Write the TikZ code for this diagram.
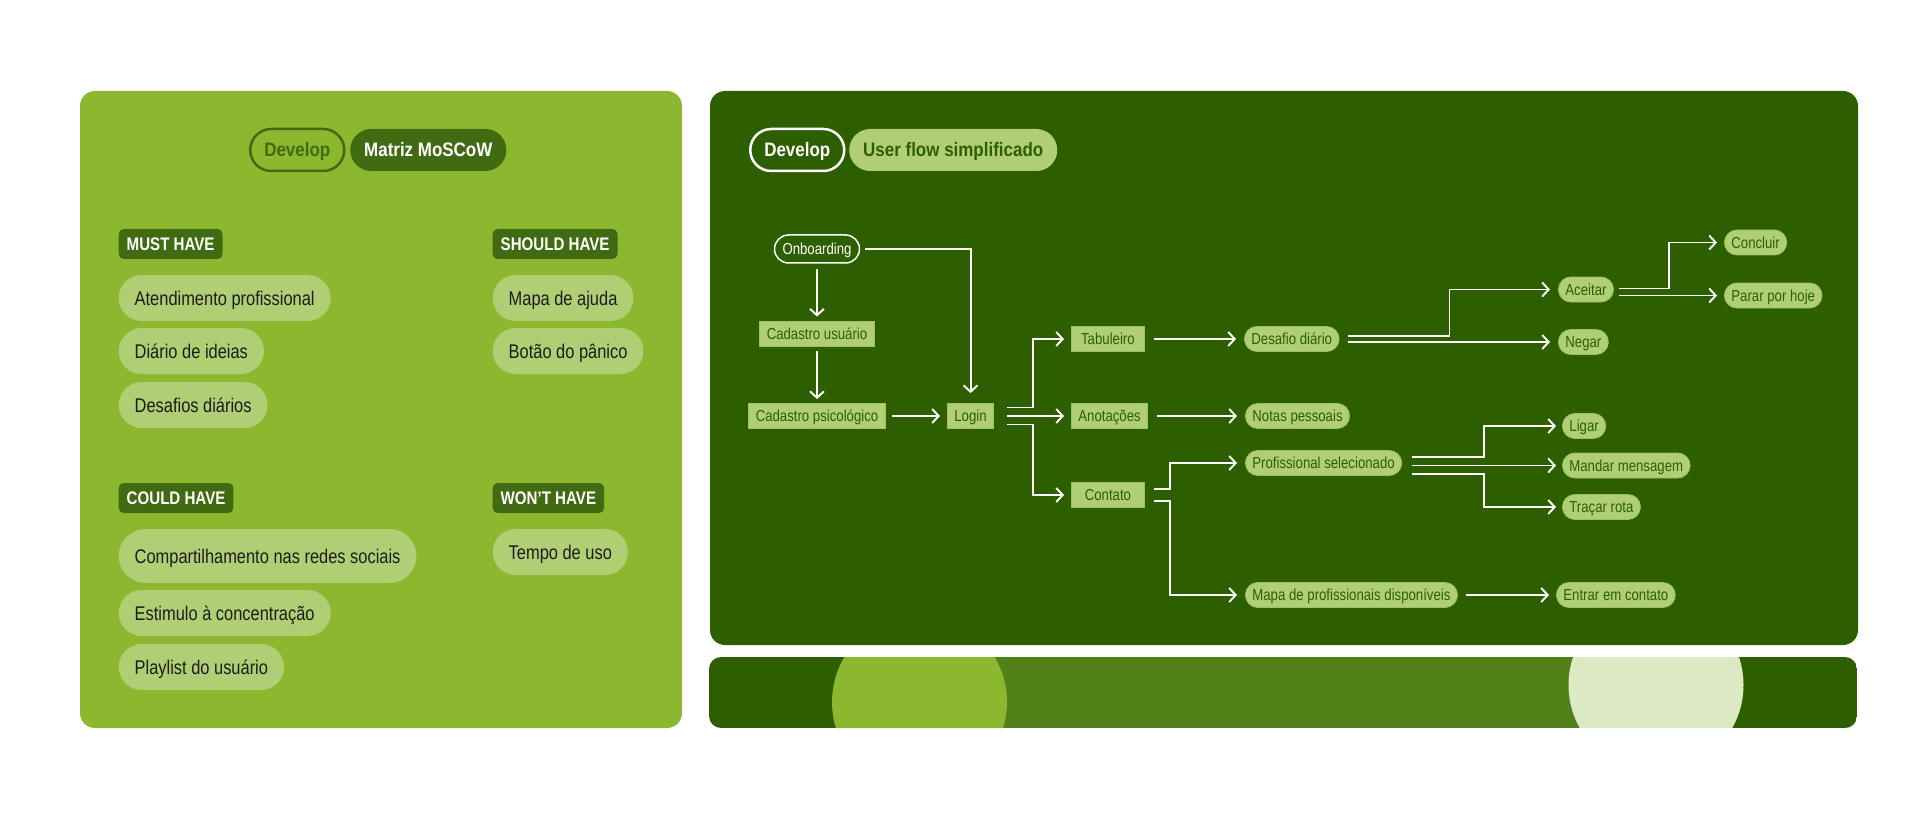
\documentclass[tikz,border=0pt]{standalone}
\usepackage{fontspec}
\setmainfont[FakeStretch=0.83]{Liberation Sans}
\newfontfamily\hdfont[FakeStretch=0.87]{Liberation Sans}
\usetikzlibrary{arrows.meta}
\definecolor{panelL}{HTML}{8BB82F}
\definecolor{tagD}{HTML}{416B12}
\definecolor{pill}{HTML}{B0CF75}
\definecolor{pillE}{HTML}{9CC25C}
\definecolor{panelR}{HTML}{2D5F00}
\definecolor{band}{HTML}{52811A}
\definecolor{pale}{HTML}{DDE9C3}
\definecolor{ink}{HTML}{1C1C1C}
\begin{document}
\begin{tikzpicture}[x=1pt,y=-1pt,
  every node/.style={inner ysep=0pt, text depth=0pt},
  hdr/.style={font=\hdfont\bfseries\fontsize{19.5}{23}\selectfont, text height=14pt, minimum height=42, inner xsep=14, rounded corners=21, anchor=west},
  tagbox/.style={fill=tagD, text=white, font=\bfseries\fontsize{18.2}{22}\selectfont, text height=13.1pt, minimum height=30, inner xsep=8, rounded corners=5, anchor=west},
  lpill/.style={fill=pill, text=ink, font=\fontsize{19.8}{24}\selectfont, text height=14.2pt, minimum height=46, inner xsep=16, rounded corners=23, anchor=west},
  rbox/.style={fill=pill, draw=pillE, line width=0.8, text=panelR, font=\fontsize{15.9}{20}\selectfont, text height=11.5pt, minimum height=25, inner xsep=7},
  rpill/.style={rbox, rounded corners=12.5},
  arr/.style={draw=white, line width=1.9, -{Straight Barb[length=6.5pt, width=14pt]}}
]
\useasboundingbox (0,0) rectangle (1920,829);
\fill[white] (0,0) rectangle (1920,829);

% panels
\fill[panelL, rounded corners=15] (80,91) rectangle (682,728);
\fill[panelR, rounded corners=15] (710,91) rectangle (1858,645);
\begin{scope}
  \clip[rounded corners=12] (709,657) rectangle (1857,728);
  \fill[panelR] (709,657) rectangle (1857,728);
  \fill[band] (920,657) rectangle (1656,728);
  \fill[panelL] (919.5,702) circle (87.5);
  \fill[pale] (1656,685) circle (87.5);
\end{scope}

% left panel
\node[hdr, draw=tagD, line width=2.5, text=tagD] (devL) at (249,150) {Develop};
\node[hdr, fill=tagD, text=white] (mosc) at (350,150) {Matriz MoSCoW};

\node[tagbox] (must) at (118.5,244) {MUST HAVE};
\node[tagbox] (should) at (492.5,244) {SHOULD HAVE};
\node[tagbox] (could) at (118.5,498) {COULD HAVE};
\node[tagbox] (wont) at (492.5,498) {WON’T HAVE};

\node[lpill] (m1) at (118.5,298) {Atendimento profissional};
\node[lpill] (m2) at (118.5,351) {Diário de ideias};
\node[lpill] (m3) at (118.5,405) {Desafios diários};
\node[lpill] (s1) at (492.5,298) {Mapa de ajuda};
\node[lpill] (s2) at (492.5,351) {Botão do pânico};
\node[lpill, minimum height=54, rounded corners=27] (c1) at (118.5,556) {Compartilhamento nas redes sociais};
\node[lpill] (c2) at (118.5,613) {Estimulo à concentração};
\node[lpill] (c3) at (118.5,667) {Playlist do usuário};
\node[lpill] (w1) at (492.5,552) {Tempo de uso};

% right panel headers
\node[hdr, draw=white, line width=2.5, text=white] (devR) at (749,150) {Develop};
\node[hdr, fill=pill, text=panelR] (ufs) at (849,150) {User flow simplificado};

% flow nodes
\node[draw=white, line width=1.5, text=white, rounded corners=14, minimum height=28, inner xsep=8, text height=11.5pt, font=\fontsize{15.9}{20}\selectfont] (onb) at (817,249) {Onboarding};
\node[rbox] (cu) at (817,333.5) {Cadastro usuário};
\node[rbox] (cp) at (817,416) {Cadastro psicológico};
\node[rbox, anchor=west] (login) at (947,416) {Login};
\node[rbox, anchor=west, minimum width=73] (tab) at (1071,339) {Tabuleiro};
\node[rbox, anchor=west, minimum width=73] (ano) at (1071,416) {Anotações};
\node[rbox, anchor=west, minimum width=73] (con) at (1071,495) {Contato};
\node[rpill, anchor=west] (dd) at (1244,339) {Desafio diário};
\node[rpill, anchor=west] (np) at (1245,416) {Notas pessoais};
\node[rpill, anchor=west] (ps) at (1245,463) {Profissional selecionado};
\node[rpill, anchor=west] (mpd) at (1245,595) {Mapa de profissionais disponíveis};
\node[rpill, anchor=west] (ace) at (1558,289.5) {Aceitar};
\node[rpill, anchor=west] (neg) at (1558,342) {Negar};
\node[rpill, anchor=west] (conc) at (1724,242.5) {Concluir};
\node[rpill, anchor=west] (pph) at (1724,295.5) {Parar por hoje};
\node[rpill, anchor=west] (lig) at (1562,426) {Ligar};
\node[rpill, anchor=west] (mm2) at (1562,465.5) {Mandar mensagem};
\node[rpill, anchor=west] (tr) at (1562,507) {Traçar rota};
\node[rpill, anchor=west] (eec) at (1556,595) {Entrar em contato};

% helper coordinates
\coordinate (lgx) at ([xshift=39pt]login.east);
\coordinate (cnx) at ([xshift=25pt]con.east);
\coordinate (ddx) at ([xshift=110pt]dd.east);
\coordinate (acx) at ([xshift=55pt]ace.east);
\coordinate (psx) at ([xshift=82pt]ps.east);

% connectors
\draw[arr] ([yshift=-5pt]onb.south) -- ([yshift=4pt]cu.north);
\draw[arr] ([yshift=-5pt]cu.south) -- ([yshift=4pt]cp.north);
\draw[arr] ([xshift=5pt]onb.east) -| ([yshift=10pt]login.north);
\draw[arr] ([xshift=6pt]cp.east) -- ([xshift=-7pt]login.west);

\draw[arr] ([shift={(13,-8.5)}]login.east) -| (lgx |- tab.west) -- ([xshift=-7pt]tab.west);
\draw[arr] ([xshift=13pt]login.east) -- ([xshift=-7pt]ano.west);
\draw[arr] ([shift={(13,8.5)}]login.east) -| (lgx |- con.west) -- ([xshift=-7pt]con.west);

\draw[arr] ([xshift=9pt]tab.east) -- ([xshift=-8pt]dd.west);
\draw[arr] ([xshift=9pt]ano.east) -- ([xshift=-8pt]np.west);
\draw[arr] ([shift={(9,-6)}]con.east) -| (cnx |- ps.west) -- ([xshift=-8pt]ps.west);
\draw[arr] ([shift={(9,6)}]con.east) -| (cnx |- mpd.west) -- ([xshift=-8pt]mpd.west);
\draw[arr] ([xshift=8pt]mpd.east) -- ([xshift=-7pt]eec.west);

\draw[arr] ([shift={(8,-3)}]dd.east) -| (ddx |- ace.west) -- ([xshift=-8pt]ace.west);
\draw[arr] ([shift={(8,3)}]dd.east) -- ([xshift=-8pt]neg.west);
\draw[arr] ([shift={(5,-1)}]ace.east) -| (acx |- conc.west) -- ([xshift=-7pt]conc.west);
\draw[arr] ([shift={(5,6)}]ace.east) -- ([xshift=-7pt]pph.west);

\draw[arr] ([shift={(10,-6)}]ps.east) -| (psx |- lig.west) -- ([xshift=-6pt]lig.west);
\draw[arr] ([shift={(10,2.5)}]ps.east) -- ([xshift=-6pt]mm2.west);
\draw[arr] ([shift={(10,11)}]ps.east) -| (psx |- tr.west) -- ([xshift=-6pt]tr.west);
\end{tikzpicture}
\end{document}
